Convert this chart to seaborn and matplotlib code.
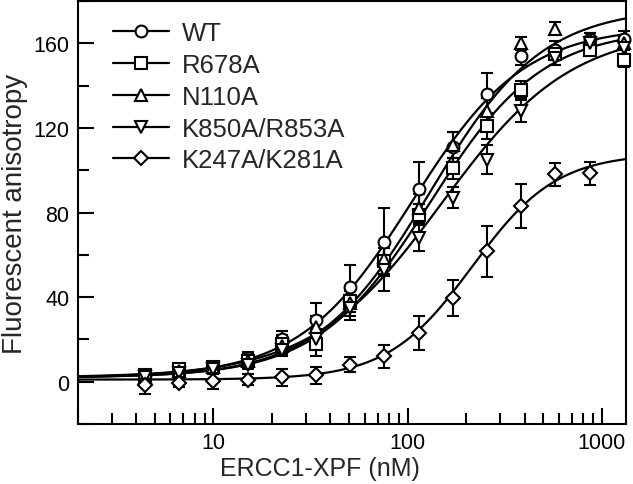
import numpy as np
import pandas as pd
import matplotlib
matplotlib.use("Agg")
import matplotlib.pyplot as plt
import seaborn as sns
from matplotlib.lines import Line2D
from matplotlib.ticker import MultipleLocator, LogLocator, FixedFormatter, FixedLocator

# ---- data ----
conc = [4.44, 6.67, 10, 15, 22.5, 33.75, 50.6, 75.9, 113.9, 170.9, 256, 384, 577, 865, 1297]

wt = [3, 5, 7, 11, 20, 29, 45, 66, 91, 111, 136, 154, 157, 162, 162]
wt_err = [2, 2, 2, 3, 4, 8, 10, 16, 13, 7, 10, 4, 4, 3, 4]

r678a = [3, 6, 7, 10, 18, 18, 38, 57, 79, 101, 121, 138, 155, 157, 152]
r678a_err = [2, 2, 2, 3, 4, 6, 5, 6, 5, 5, 6, 4, 3, 3, 3]

n110a = [2, 5, 7, 10, 17, 26, 37, 58, 82, 112, 128, 160, 167, 162, 160]
n110a_err = [3, 2, 2, 3, 4, 5, 6, 8, 7, 6, 6, 3, 3, 3, 3]

k850a = [2, 4, 6, 8, 15, 20, 35, 53, 68, 87, 105, 128, 153, 160, 158]
k850a_err = [2, 2, 2, 2, 3, 5, 6, 10, 6, 5, 7, 5, 3, 2, 3]

conc_k247a = conc[:14]
k247a = [-1.4, -0.6, 0.2, 1, 2, 3, 8, 12, 23, 39.5, 61.6, 83, 98, 98.6]
k247a_err = [4.5, 2, 3.5, 2.5, 4, 4, 3.5, 5.5, 8, 8.5, 12, 10.5, 5.5, 5.5]

# Hill fit parameters (baseline, amplitude, Kd in nM, Hill coefficient)
fit_wt = (2, 166, 105, 1.5)
fit_r678a = (2, 165, 130, 1.5)
fit_n110a = (2, 175, 130, 1.5)
fit_k850a = (2, 165, 150, 1.3)
fit_k247a = (1, 107, 215, 2.0)

labels = ["WT", "R678A", "N110A", "K850A/R853A", "K247A/K281A"]
markers = ["o", "s", "^", "v", "D"]


def hill(x, p):
    y0, amp, kd, n = p
    return y0 + amp * x ** n / (kd ** n + x ** n)


series = [
    (conc, wt, wt_err, fit_wt),
    (conc, r678a, r678a_err, fit_r678a),
    (conc, n110a, n110a_err, fit_n110a),
    (conc, k850a, k850a_err, fit_k850a),
    (conc_k247a, k247a, k247a_err, fit_k247a),
]

sns.set_style("ticks")
plt.rcParams["font.family"] = ["Liberation Sans", "DejaVu Sans"]

fig = plt.figure(figsize=(6.33, 4.85), dpi=100)
ax = fig.add_axes([0.1228, 0.1237, 0.866, 0.872])

xfit = np.logspace(np.log10(2), np.log10(1330), 300)
for (x, y, e, p), lab, m in zip(series, labels, markers):
    curve = pd.DataFrame({"x": xfit, "y": hill(xfit, p)})
    sns.lineplot(data=curve, x="x", y="y", color="black", lw=1.6, ax=ax, zorder=2)

for (x, y, e, p), lab, m in zip(series, labels, markers):
    ms = 7.5 if m == "D" else 8.5
    ax.errorbar(x, y, yerr=e, fmt=m, mfc="white", mec="black", mew=1.5, ms=ms,
                ecolor="black", elinewidth=1.5, capsize=4.5, capthick=1.5,
                zorder=3, clip_on=False)

ax.set_xscale("log")
ax.set_xlim(2, 1330)
ax.set_ylim(-20, 180)
ax.xaxis.set_major_locator(FixedLocator([10, 100, 1000]))
ax.xaxis.set_major_formatter(FixedFormatter(["10", "100", "1000"]))
ax.xaxis.set_minor_locator(LogLocator(base=10, subs=np.arange(2, 10)))
ax.xaxis.set_minor_formatter(plt.NullFormatter())
ax.yaxis.set_major_locator(FixedLocator([0, 40, 80, 120, 160]))
ax.yaxis.set_minor_locator(MultipleLocator(20))

ax.tick_params(which="both", direction="in", width=1.5, top=False, right=False,
               labelsize=15.5, colors="black")
ax.tick_params(which="major", length=11.5, pad=6)
ax.tick_params(which="minor", length=8)
for s in ax.spines.values():
    s.set_linewidth(1.5)
    s.set_color("black")

ax.set_xlabel("ERCC1-XPF (nM)", fontsize=18)
ax.xaxis.set_label_coords(0.4416, -0.075)
ax.set_ylabel("Fluorescent anisotropy", fontsize=20, labelpad=4)

handles = [Line2D([], [], color="black", lw=1.6, marker=m, mfc="white", mec="black",
                  mew=1.5, ms=(7.5 if m == "D" else 8.5)) for m in markers]
ax.legend(handles, labels, loc="upper left", bbox_to_anchor=(0.064, 0.952),
          frameon=False, fontsize=18.5, handlelength=2.2, handletextpad=0.5,
          labelspacing=0.3, borderaxespad=0, borderpad=0)

fig.savefig("out.png", dpi=100)
